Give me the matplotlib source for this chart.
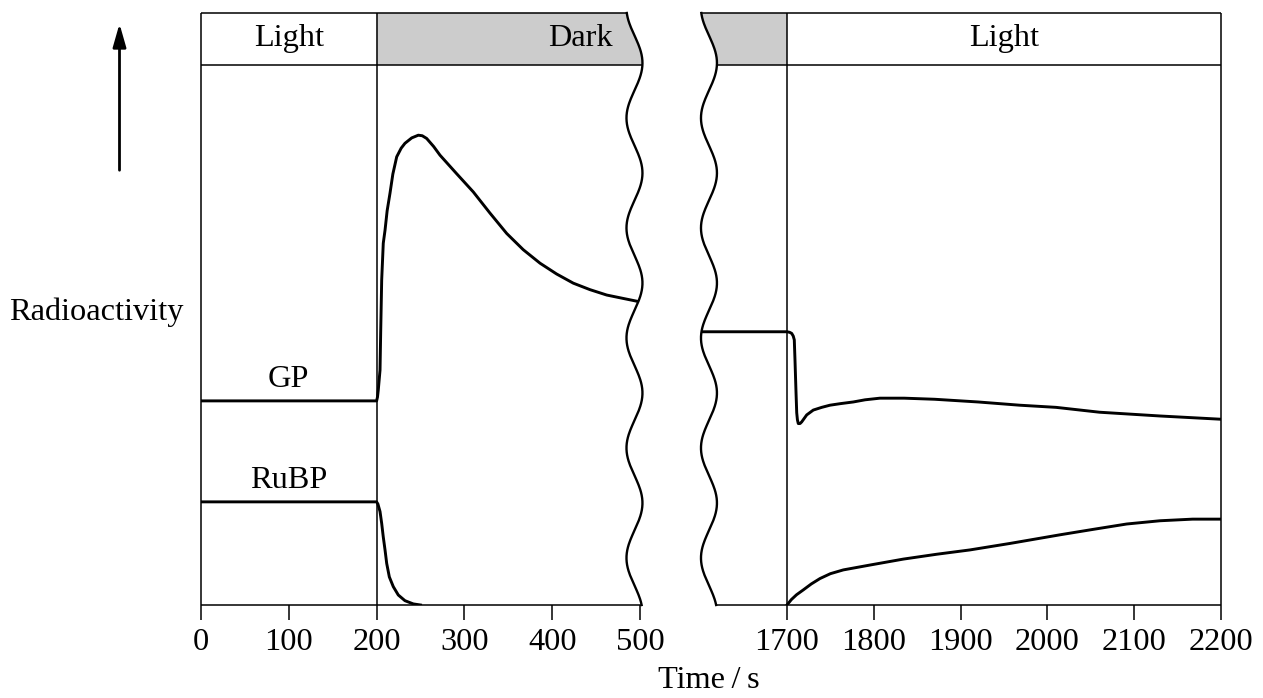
import numpy as np
import matplotlib.pyplot as plt
from matplotlib.patches import Polygon, FancyArrowPatch

plt.rcParams['font.family'] = ['Liberation Serif', 'DejaVu Serif']

# ---- data (time in s, radioactivity in arbitrary units) ----
gp_left_t = [0, 200, 201, 201.9, 203.9, 204.7, 205.8, 207.6, 209.6, 212, 215.3, 218.5, 222.9,
             228, 232.3, 240, 247.5, 252, 257, 265, 272.2, 291, 310.1, 329, 348.2, 367,
             386.1, 405, 424.0, 443, 462.1, 480, 498.1, 505]
gp_left_y = [37.8, 37.8, 38.5, 39.8, 43.5, 50.9, 60.2, 67.0, 69.4, 73.0, 76.3, 79.8, 83.0,
             84.6, 85.5, 86.5, 87.0, 86.9, 86.4, 84.9, 83.3, 79.9, 76.5, 72.6, 68.8, 65.8,
             63.3, 61.3, 59.6, 58.4, 57.4, 56.8, 56.2, 56.0]

rubp_left_t = [0, 200, 201.5, 203.9, 205.8, 207.6, 209.6, 211.5, 214.5, 219, 224.7, 232.3, 241.8, 250]
rubp_left_y = [19.1, 19.1, 18.7, 17.3, 15.1, 12.6, 10.2, 7.7, 5.2, 3.4, 1.85, 0.8, 0.2, 0.0]

gp_right_t = [1600, 1700, 1703, 1705.4, 1707.2, 1708.4, 1709.2, 1710.4, 1711.2, 1712, 1713,
              1715, 1716.9, 1722.7, 1730.3, 1740, 1749.5, 1762, 1776.4, 1790, 1807, 1835,
              1870, 1920, 1968, 2010, 2060, 2130, 2200]
gp_right_y = [50.6, 50.6, 50.5, 50.3, 49.8, 49.1, 45.4, 39.3, 35.6, 34.3, 33.6,
              33.6, 33.9, 35.2, 36.1, 36.6, 37.0, 37.3, 37.6, 38.0, 38.3, 38.3,
              38.1, 37.6, 37.0, 36.6, 35.7, 35.0, 34.4]

rubp_right_t = [1700, 1705, 1711, 1718.8, 1728, 1738, 1750, 1764.9, 1795.6, 1834, 1872.5,
                1910.8, 1956.9, 2014.5, 2052.5, 2091.4, 2129.7, 2167.3, 2200]
rubp_right_y = [0, 1.0, 1.9, 2.8, 3.9, 4.9, 5.8, 6.5, 7.4, 8.5, 9.4,
                10.2, 11.4, 13.0, 14.0, 15.0, 15.6, 15.9, 15.9]

left_ticks = [0, 100, 200, 300, 400, 500]
right_ticks = [1700, 1800, 1900, 2000, 2100, 2200]

FS = 23.3

# ---- layout ----
W, H = 1263, 698
fig = plt.figure(figsize=(W / 100, H / 100), dpi=100)
axL = fig.add_axes([201 / W, 93 / H, 439 / W, 540 / H])
axR = fig.add_axes([700.2 / W, 93 / H, 520.8 / W, 540 / H])
axL.set_xlim(0, 500)
axR.set_xlim(1600, 2200)
for ax in (axL, axR):
    ax.set_ylim(0, 100)
    for s in ax.spines.values():
        s.set_visible(False)
    ax.set_yticks([])
    ax.tick_params(axis='x', length=10.8, width=1.1, pad=6, labelsize=FS, direction='out')
axL.set_xticks(left_ticks)
axR.set_xticks(right_ticks)

TOP = 109.63
k = dict(color='black', lw=1.1, clip_on=False, solid_capstyle='butt')

def wave(y, c, a):
    return c + a * np.cos(2 * np.pi * (y - 100.37) / 20.37)

CL, AL = 493.7, 9.1
CR, AR = 1610.1, 9.2
ys = np.linspace(0, TOP, 400)

# header shading
yh = ys[ys >= 100]
axL.add_patch(Polygon([(200, 100)] + list(zip(wave(yh, CL, AL), yh)) + [(200, TOP)],
                      closed=True, fc='#cccccc', ec='none', clip_on=False))
axR.add_patch(Polygon([(1700, 100)] + list(zip(wave(yh, CR, AR), yh)) + [(1700, TOP)],
                      closed=True, fc='#cccccc', ec='none', clip_on=False))

# left frame
axL.plot([0, 0], [0, TOP], **k)
axL.plot([200, 200], [0, TOP], **k)
axL.plot([0, wave(0, CL, AL)], [0, 0], **k)
axL.plot([0, wave(100, CL, AL)], [100, 100], **k)
axL.plot([0, wave(TOP, CL, AL)], [TOP, TOP], **k)
axL.plot(wave(ys, CL, AL), ys, color='black', lw=1.7, clip_on=False)

# right frame
axR.plot([2200, 2200], [0, TOP], **k)
axR.plot([1700, 1700], [0, TOP], **k)
axR.plot([wave(0, CR, AR), 2200], [0, 0], **k)
axR.plot([wave(100, CR, AR), 2200], [100, 100], **k)
axR.plot([wave(TOP, CR, AR), 2200], [TOP, TOP], **k)
axR.plot(wave(ys, CR, AR), ys, color='black', lw=1.7, clip_on=False)

# clip regions bounded by the wavy breaks
yd = ys[ys <= 100]
clipL = Polygon([(-10, 0)] + list(zip(wave(yd, CL, AL), yd)) + [(-10, 100)],
                closed=True, transform=axL.transData)
clipR = Polygon([(2300, 0)] + list(zip(wave(yd, CR, AR), yd)) + [(2300, 100)],
                closed=True, transform=axR.transData)

for t, y in ((gp_left_t, gp_left_y), (rubp_left_t, rubp_left_y)):
    ln, = axL.plot(t, y, color='black', lw=2.1, solid_joinstyle='round')
    ln.set_clip_path(clipL)
for t, y in ((gp_right_t, gp_right_y), (rubp_right_t, rubp_right_y)):
    ln, = axR.plot(t, y, color='black', lw=2.1, solid_joinstyle='round')
    ln.set_clip_path(clipR)

# header labels
hy = (100 + TOP) / 2
axL.text(100, hy, 'Light', ha='center', va='center', fontsize=FS)
axL.text(432, hy, 'Dark', ha='center', va='center', fontsize=FS)
axR.text(1950, hy, 'Light', ha='center', va='center', fontsize=FS)

# series labels
axL.text(100, gp_left_y[0] + 1.2, 'GP', ha='center', va='bottom', fontsize=FS)
axL.text(100, rubp_left_y[0] + 1.2, 'RuBP', ha='center', va='bottom', fontsize=FS)

# axis labels
fig.text(96 / W, 1 - 312 / H, 'Radioactivity', ha='center', va='center', fontsize=FS)
fig.text(709 / W, 1 - 681 / H, 'Time\u2009/\u2009s', ha='center', va='center', fontsize=FS)
fig.patches.append(FancyArrowPatch(
    (119.5 / W, 1 - 173 / H), (119.5 / W, 1 - 21 / H), transform=fig.transFigure,
    arrowstyle='-|>,head_length=14,head_width=4', mutation_scale=1, lw=2, color='black'))

fig.savefig('out.png', dpi=100)
